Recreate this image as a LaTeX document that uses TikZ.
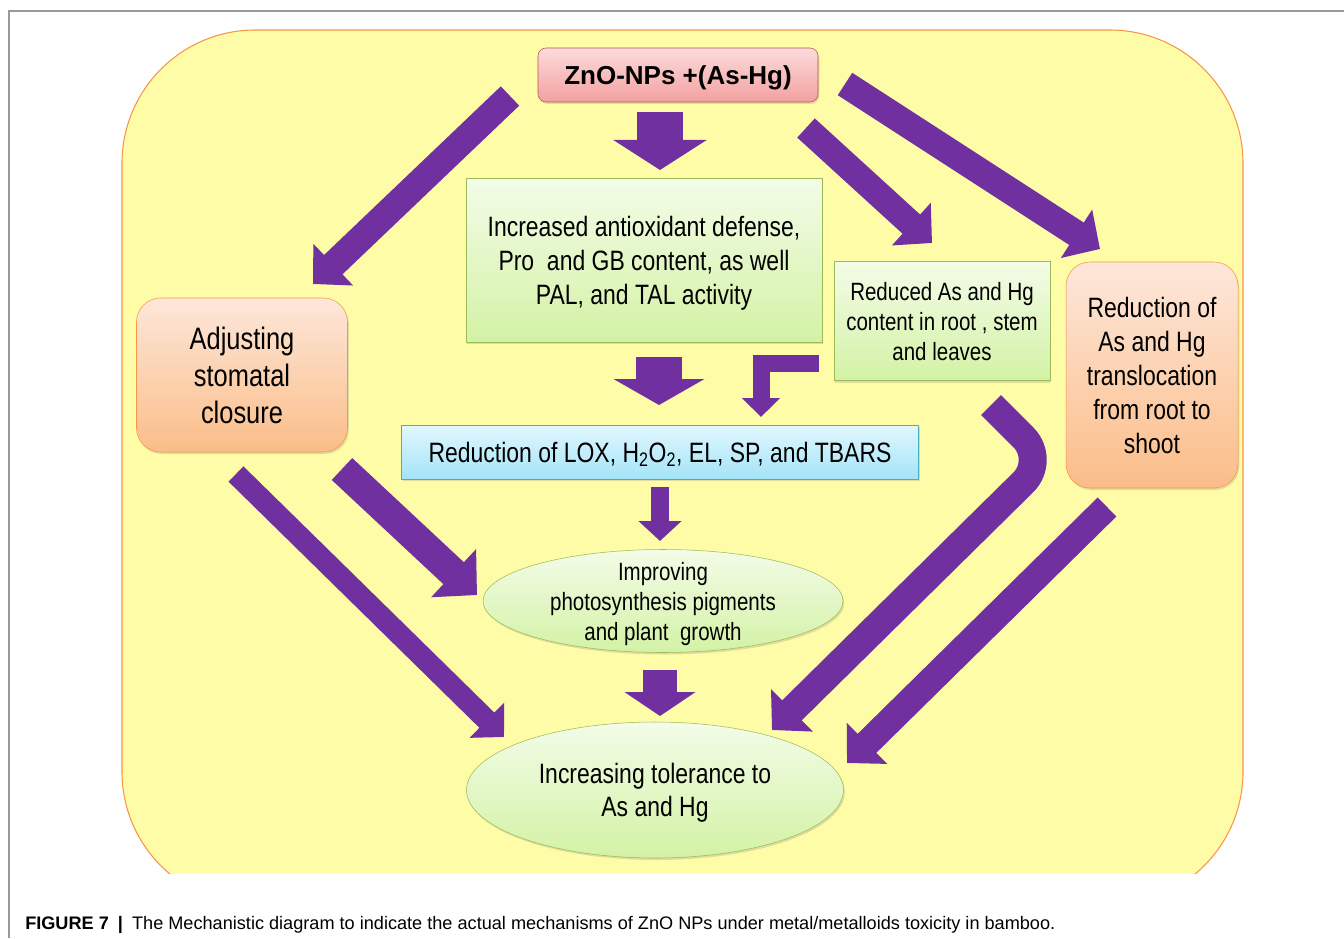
\documentclass[tikz,border=0pt]{standalone}
\usepackage{fontspec}
\setmainfont{Liberation Sans}
\newfontfamily\nfont{Liberation Sans}[FakeStretch=0.82]
\usepackage{tikz}
\usetikzlibrary{arrows.meta,shapes.geometric,shadows,positioning}

\definecolor{bgyellow}{HTML}{FFFCA8}
\definecolor{bgline}{HTML}{F79646}
\definecolor{purp}{HTML}{7030A0}
\definecolor{gtop}{HTML}{F3FCE8}
\definecolor{gbot}{HTML}{D3F2A5}
\definecolor{gline}{HTML}{9BBB59}
\definecolor{otop}{HTML}{FDE7DA}
\definecolor{obot}{HTML}{FBBD88}
\definecolor{btop}{HTML}{E2F7FE}
\definecolor{bbot}{HTML}{A3E4F8}
\definecolor{bline}{HTML}{4BACC6}
\definecolor{rtop}{HTML}{FCDCDC}
\definecolor{rbot}{HTML}{F3A0A0}
\definecolor{rline}{HTML}{C0504D}

\begin{document}
\begin{tikzpicture}[x=0.75pt,y=-0.75pt,
  nodebase/.style={align=center,inner sep=0pt,font=\nfont,text depth=0pt,
    drop shadow={opacity=.25,shadow xshift=1pt,shadow yshift=-1.5pt}},
  redbox/.style={nodebase,rectangle,rounded corners=6pt,draw=rline,top color=rtop,bottom color=rbot},
  greenbox/.style={nodebase,rectangle,draw=gline,top color=gtop,bottom color=gbot},
  orangebox/.style={nodebase,rectangle,rounded corners=18pt,draw=bgline,top color=otop,bottom color=obot},
  bluebox/.style={nodebase,rectangle,draw=bline,top color=btop,bottom color=bbot},
  greenoval/.style={nodebase,ellipse,draw=gline,top color=gtop,bottom color=gbot},
  fat/.style n args={3}{draw=purp,line width=#1,-{Triangle[width=#2,length=#3]}}]
  \useasboundingbox (0,0) rectangle (1344,938);

  \draw[gray!80,line width=0.8pt] (9,938) -- (9,11) -- (1344,11);
  \begin{scope}
    \clip (0,0) rectangle (1344,873);
    \draw[bgline,fill=bgyellow,line width=0.8pt,rounded corners=100pt] (122,30) rectangle (1243,905);
  \end{scope}

  \node[redbox,minimum width=210pt,minimum height=40.5pt,
        font=\bfseries\fontsize{19.5}{23}\selectfont]                  (zno)   at (678,75)  {ZnO-NPs +(As-Hg)};
  \node[greenbox,minimum width=267pt,minimum height=123pt,
        font=\nfont\fontsize{21}{25.5}\selectfont]                     (anti)  at (644,260) {Increased antioxidant defense,\\Pro\ \ and GB content, as well\\PAL, and TAL activity};
  \node[greenbox,minimum width=162pt,minimum height=89.25pt,
        font=\nfont\fontsize{18.75}{22.5}\selectfont]                  (cont)  at (942,321) {Reduced As and Hg\\content in root , stem\\and leaves};
  \node[orangebox,minimum width=158.25pt,minimum height=115.5pt,
        font=\nfont\fontsize{23.25}{27.75}\selectfont]                 (stom)  at (242,375) {Adjusting\\stomatal\\closure};
  \node[orangebox,minimum width=129pt,minimum height=169.5pt,
        font=\nfont\fontsize{21}{25.5}\selectfont]                     (trans) at (1152,375) {Reduction of\\As and Hg\\translocation\\from root to\\shoot};
  \node[bluebox,minimum width=387.75pt,minimum height=40.5pt,
        font=\nfont\fontsize{21}{25.5}\selectfont]                     (lox)   at (660,452) {Reduction of LOX, H\textsubscript{2}O\textsubscript{2}, EL, SP, and TBARS};
  \node[greenoval,minimum width=270pt,minimum height=77.25pt,inner ysep=-10pt,
        font=\nfont\fontsize{18.75}{22.5}\selectfont]                  (photo) at (663,601) {Improving\\photosynthesis pigments\\and plant\ \ growth};
  \node[greenoval,minimum width=282.75pt,minimum height=102pt,
        font=\nfont\fontsize{21}{24.75}\selectfont]                    (tol)   at (655,790) {Increasing tolerance to\\As and Hg};

  \node[anchor=base west,inner sep=0pt,font=\fontsize{13.6}{16}\selectfont] (cap) at (25,929)
    {\textbf{FIGURE 7}\enspace\textbf{|}\enspace The Mechanistic diagram to indicate the actual mechanisms of ZnO NPs under metal/metalloids toxicity in bamboo.};

  \coordinate (s1) at (510,96);   \coordinate (e1) at (313,284);
  \coordinate (s2) at (660,112);  \coordinate (e2) at (660,170);
  \coordinate (s3) at (806,128);  \coordinate (e3) at (932,243);
  \coordinate (s4) at (845,84);   \coordinate (e4) at (1100,249);
  \coordinate (s5) at (659,357);  \coordinate (e5) at (659,405);
  \coordinate (s6) at (819,363);  \coordinate (b6) at (761,363);  \coordinate (e6) at (761,417);
  \coordinate (s7) at (660,487);  \coordinate (e7) at (660,541);
  \coordinate (s8) at (342,469);  \coordinate (e8) at (477,595);
  \coordinate (s9) at (236,474);  \coordinate (e9) at (504,737);
  \coordinate (s10) at (660,670); \coordinate (e10) at (660,716);
  \coordinate (s11) at (991,405); \coordinate (b11) at (1046,460); \coordinate (e11) at (772,730);
  \coordinate (s12) at (1107,507); \coordinate (e12) at (847,763);

  \path (s1)  edge[fat={20pt}{42pt}{21pt}]       (e1)
        (s2)  edge[fat={34.5pt}{69pt}{22.5pt}]   (e2)
        (s3)  edge[fat={19.5pt}{42pt}{21pt}]     (e3)
        (s4)  edge[fat={20pt}{42pt}{21pt}]       (e4)
        (s5)  edge[fat={34.5pt}{67.5pt}{19.5pt}] (e5)
        (s7)  edge[fat={13.5pt}{31.5pt}{15pt}]   (e7)
        (s8)  edge[fat={22.5pt}{48pt}{24pt}]     (e8)
        (s9)  edge[fat={16pt}{36pt}{18pt}]       (e9)
        (s10) edge[fat={25.5pt}{52.5pt}{18pt}]   (e10)
        (s12) edge[fat={20pt}{42pt}{21pt}]       (e12);
  \draw[fat={12.75pt}{27.75pt}{14.25pt},line join=miter] (s6) -- (b6) -- (e6);
  \draw[fat={21pt}{43.5pt}{21pt},rounded corners=24pt] (s11) -- (b11) -- (e11);
\end{tikzpicture}
\end{document}
